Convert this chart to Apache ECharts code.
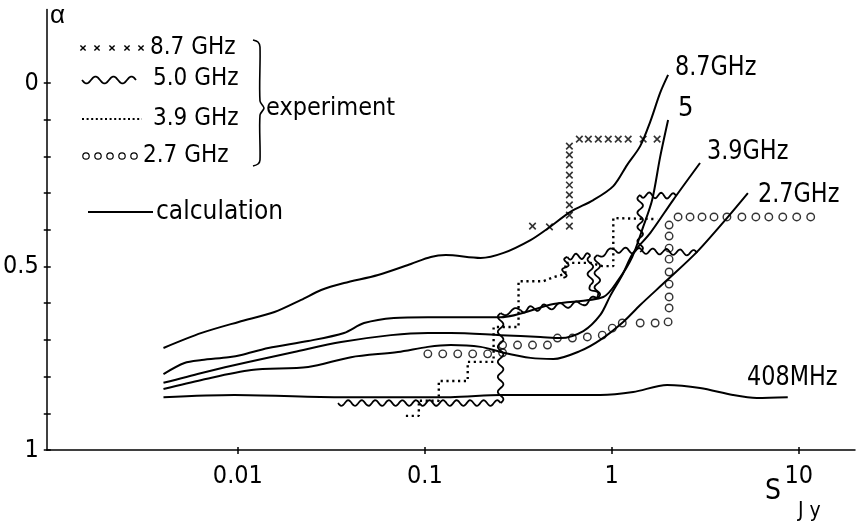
<!DOCTYPE html>
<html>
<head>
<meta charset="utf-8">
<script src="https://cdn.jsdelivr.net/npm/echarts@6/dist/echarts.min.js"></script>
<style>
  html, body { margin: 0; padding: 0; background: #fff; }
  #main { width: 859px; height: 523px; }
</style>
</head>
<body>
<div id="main"></div>
<script>
// calculated spectral index curves, [S (Jy), alpha]
const calc87 = [[0.0040,0.722],[0.0064,0.681],[0.0101,0.651],[0.0157,0.624],[0.0218,0.591],[0.0279,0.564],[0.037,0.545],[0.0562,0.523],[0.0842,0.493],[0.1076,0.474],[0.1294,0.469],[0.1989,0.477],[0.2638,0.463],[0.3676,0.428],[0.4584,0.395],[0.6008,0.351],[0.797,0.319],[1.019,0.281],[1.209,0.223],[1.419,0.172],[1.605,0.106],[1.814,0.027],[2.001,-0.022]];
const calc50 = [[0.0040,0.793],[0.00518,0.763],[0.0064,0.755],[0.0089,0.747],[0.01044,0.741],[0.01455,0.722],[0.02377,0.703],[0.037,0.681],[0.0473,0.654],[0.0683,0.640],[0.1038,0.638],[0.2543,0.638],[0.4875,0.602],[0.901,0.583],[1.083,0.537],[1.286,0.474],[1.472,0.392],[1.644,0.319],[1.814,0.202],[2.001,0.101]];
const calc39 = [[0.0040,0.817],[0.0064,0.790],[0.01138,0.760],[0.02001,0.733],[0.03565,0.706],[0.0659,0.687],[0.1038,0.681],[0.1376,0.681],[0.2543,0.687],[0.4156,0.692],[0.5313,0.695],[0.7047,0.676],[0.8683,0.632],[0.9817,0.580],[1.138,0.523],[1.302,0.463],[1.605,0.409],[2.128,0.319],[2.965,0.218]];
const calc27 = [[0.0040,0.834],[0.0064,0.809],[0.0118,0.782],[0.02377,0.774],[0.0403,0.747],[0.0718,0.733],[0.1038,0.719],[0.1376,0.714],[0.1989,0.719],[0.2543,0.733],[0.3676,0.749],[0.4875,0.752],[0.6792,0.730],[0.8683,0.700],[1.151,0.651],[1.419,0.605],[1.977,0.537],[2.858,0.460],[4.130,0.368],[5.346,0.300]];
const calc408 = [[0.0040,0.856],[0.00958,0.850],[0.0327,0.856],[0.1376,0.856],[0.2543,0.850],[0.8683,0.850],[1.302,0.842],[1.977,0.823],[2.965,0.831],[4.446,0.850],[5.97,0.858],[8.736,0.856]];

// experimental values
const exp87 = [[0.3767,0.390],[0.4642,0.392],[0.5933,0.390],[0.5933,0.360],[0.5933,0.332],[0.5933,0.305],[0.5933,0.278],[0.5933,0.251],[0.5933,0.223],[0.5933,0.196],[0.5933,0.172],[0.6708,0.153],[0.7494,0.153],[0.8472,0.153],[0.9578,0.153],[1.083,0.153],[1.224,0.153],[1.472,0.153],[1.748,0.153]];
const exp50 = [
  [[0.03436,0.872],[0.2543,0.872],[0.2543,0.627],[0.3251,0.619],[0.4529,0.610],[0.6792,0.602],[0.8369,0.586]],
  [[0.5511,0.531],[0.5789,0.474],[0.768,0.471],[0.768,0.550],[0.8369,0.583]],
  [[0.8369,0.586],[0.8369,0.469],[1.044,0.455],[2.858,0.463]],
  [[1.419,0.460],[1.419,0.305],[2.208,0.308]]
];
const exp39 = [[0.0792,0.907],[0.0929,0.907],[0.0929,0.866],[0.1188,0.866],[0.1188,0.812],[0.1696,0.812],[0.1696,0.760],[0.2333,0.760],[0.2333,0.665],[0.3172,0.665],[0.3172,0.540],[0.4312,0.540],[0.4875,0.529],[0.5649,0.520],[0.5649,0.490],[0.768,0.490],[0.8897,0.499],[1.019,0.499],[1.019,0.368],[1.748,0.371]];
const exp27 = [[0.1038,0.738],[0.1247,0.738],[0.150,0.738],[0.1803,0.738],[0.2168,0.738],[0.2606,0.735],
  [0.2606,0.714],[0.3133,0.714],[0.3767,0.714],[0.4529,0.714],
  [0.5121,0.695],[0.6157,0.695],[0.7403,0.692],[0.8897,0.687],[1.006,0.668],[1.138,0.654],[1.419,0.654],[1.706,0.654],[2.001,0.651],
  [2.026,0.613],[2.026,0.583],[2.026,0.548],[2.026,0.515],[2.026,0.480],[2.026,0.450],[2.026,0.417],[2.026,0.387],
  [2.263,0.365],[2.622,0.365],[3.039,0.365],[3.522,0.365],[4.130,0.365],[4.966,0.365],[5.899,0.365],[6.918,0.365],[8.216,0.365],[9.757,0.365],[11.59,0.365]];

const xTicks = [0.01, 0.1, 1, 10];
const yTicks = [0, 0.1, 0.2, 0.3, 0.4, 0.5, 0.6, 0.7, 0.8, 0.9, 1];
const yLabels = [0, 0.5, 1];

const NARROW = '"DejaVu Sans Condensed", sans-serif';
const SANS = '"Liberation Sans", Arial, sans-serif';

// wavy polyline between two pixel points
function wavePoints(p0, p1, wl, amp) {
  const dx = p1[0] - p0[0], dy = p1[1] - p0[1];
  const len = Math.hypot(dx, dy);
  if (len < 0.5) return null;
  const ux = dx / len, uy = dy / len;
  const k = Math.max(1, Math.round(len / wl));
  const n = Math.max(2, Math.round(len));
  const pts = [];
  for (let i = 0; i <= n; i++) {
    const t = i / n * len;
    const o = amp * Math.sin(2 * Math.PI * t * k / len);
    pts.push([p0[0] + ux * t - uy * o, p0[1] + uy * t + ux * o]);
  }
  return pts;
}

const waveSegs = [];
exp50.forEach(function (poly) {
  for (let i = 1; i < poly.length; i++) {
    waveSegs.push([poly[i - 1][0], poly[i - 1][1], poly[i][0], poly[i][1]]);
  }
});

function calcLine(data) {
  return {
    type: 'line', data: data, smooth: 0.3, symbol: 'none',
    lineStyle: { color: '#000', width: 2 }, z: 3
  };
}

function txt(x, y, s, size, font, sx) {
  return {
    type: 'text', x: x, y: y, scaleX: sx || 1,
    style: { text: s, fill: '#000', font: size + 'px ' + (font || SANS), verticalAlign: 'middle' }
  };
}

// legend decorations
const legend = [];
[83, 97, 112, 127, 141].forEach(function (x) {
  legend.push({ type: 'line', shape: { x1: x - 2.6, y1: 45.4, x2: x + 2.6, y2: 50.6 }, style: { stroke: '#000', lineWidth: 1.4 } });
  legend.push({ type: 'line', shape: { x1: x + 2.6, y1: 45.4, x2: x - 2.6, y2: 50.6 }, style: { stroke: '#000', lineWidth: 1.4 } });
});
legend.push({ type: 'polyline', shape: { points: wavePoints([82, 80], [136, 80], 20, 3.5) }, style: { stroke: '#000', lineWidth: 1.8, fill: null } });
legend.push({ type: 'line', shape: { x1: 82, y1: 119, x2: 142, y2: 119 }, style: { stroke: '#000', lineWidth: 2, lineDash: [2, 2.6] } });
[86, 98, 110, 122, 134].forEach(function (x) {
  legend.push({ type: 'circle', shape: { cx: x, cy: 156, r: 3.2 }, style: { stroke: '#000', lineWidth: 1.2, fill: null } });
});
legend.push({ type: 'line', shape: { x1: 88, y1: 212, x2: 153, y2: 212 }, style: { stroke: '#000', lineWidth: 2 } });
legend.push({ type: 'polyline', shape: { points: [[253, 40], [258, 42], [260, 47], [260, 101], [264, 108], [260, 115], [260, 160], [258, 164], [253, 166]], smooth: 0.3 }, style: { stroke: '#000', lineWidth: 1.6, fill: null } });

const myChart = echarts.init(document.getElementById('main'));
const option = {
  animation: false,
  backgroundColor: '#fff',
  grid: { left: 45, right: 4, top: 9.6, bottom: 73 },
  xAxis: [{
    type: 'log', min: 0.00095, max: 20, position: 'bottom',
    axisLine: { onZero: false, lineStyle: { color: '#000', width: 1.5 } },
    axisTick: { length: 4, lineStyle: { color: '#000', width: 1.5 }, customValues: xTicks },
    axisLabel: { customValues: xTicks, color: '#000', fontSize: 25, fontFamily: NARROW, margin: 14 },
    splitLine: { show: false }, minorTick: { show: false }
  }, {
    type: 'log', min: 0.00095, max: 20, position: 'bottom',
    axisLine: { show: false, onZero: false },
    axisTick: { inside: true, length: 3, lineStyle: { color: '#000', width: 1.5 }, customValues: xTicks },
    axisLabel: { show: false }, splitLine: { show: false }
  }],
  yAxis: [{
    type: 'value', min: -0.2, max: 1, inverse: true,
    axisLine: { show: true, onZero: false, lineStyle: { color: '#000', width: 1.5 } },
    axisTick: { show: true, length: 3, lineStyle: { color: '#000', width: 1.5 }, customValues: yTicks },
    axisLabel: { customValues: yLabels, color: '#000', fontSize: 25, fontFamily: NARROW, margin: 8 },
    splitLine: { show: false }
  }, {
    type: 'value', min: -0.2, max: 1, inverse: true, position: 'left',
    axisLine: { show: false, onZero: false },
    axisTick: { show: true, inside: true, length: 4, lineStyle: { color: '#000', width: 1.5 }, customValues: yTicks },
    axisLabel: { show: false }, splitLine: { show: false }
  }],
  series: [
    calcLine(calc87), calcLine(calc50), calcLine(calc39), calcLine(calc27), calcLine(calc408),
    {
      type: 'line', data: exp39, symbol: 'none',
      lineStyle: { color: '#000', width: 2.4, type: [2.2, 3.6], cap: 'butt' }, z: 2
    },
    {
      type: 'custom', data: waveSegs, encode: { x: [0, 2], y: [1, 3] }, z: 2,
      renderItem: function (params, api) {
        const p0 = api.coord([api.value(0), api.value(1)]);
        const p1 = api.coord([api.value(2), api.value(3)]);
        const pts = wavePoints(p0, p1, 14, 2.8);
        if (!pts) return null;
        return { type: 'polyline', shape: { points: pts }, style: { stroke: '#000', lineWidth: 1.8, fill: null } };
      }
    },
    {
      type: 'scatter', data: exp87, symbol: 'path://M0,0L10,10M10,0L0,10', symbolSize: 6.5,
      itemStyle: { color: 'rgba(0,0,0,0)', borderColor: '#000', borderWidth: 1.6 }, z: 4
    },
    {
      type: 'scatter', data: exp27, symbol: 'circle', symbolSize: 7.5,
      itemStyle: { color: 'rgba(0,0,0,0)', borderColor: '#000', borderWidth: 1.4 }, z: 4
    }
  ],
  graphic: legend.concat([
    txt(150, 48, '8.7 GHz', 24, NARROW),
    txt(153, 79, '5.0 GHz', 24, NARROW),
    txt(153, 119, '3.9 GHz', 24, NARROW),
    txt(143, 156, '2.7 GHz', 24, NARROW),
    txt(156, 212, 'calculation', 26, NARROW),
    txt(266, 108, 'experiment', 25, NARROW),
    txt(675, 68, '8.7GHz', 27, NARROW, 0.92),
    txt(678, 109, '5', 27, NARROW),
    txt(707, 152, '3.9GHz', 27, NARROW, 0.92),
    txt(758, 195, '2.7GHz', 27, NARROW, 0.92),
    txt(747, 378, '408MHz', 27, NARROW, 0.92),
    txt(50, 16, 'α', 26),
    txt(765, 492, 'S', 28, NARROW),
    txt(798, 512, 'J y', 21, NARROW)
  ])
};
myChart.setOption(option);
window.addEventListener('resize', function () { myChart.resize(); });
</script>
</body>
</html>
